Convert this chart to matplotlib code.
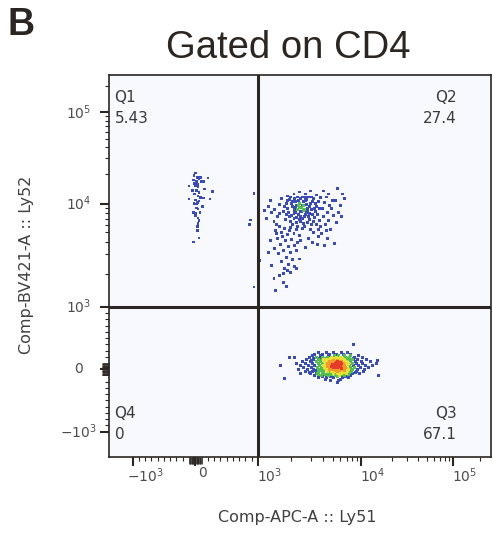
import numpy as np
import matplotlib
matplotlib.use("Agg")
import matplotlib.pyplot as plt
import matplotlib.transforms as mtransforms
from matplotlib.colors import ListedColormap, BoundaryNorm
from matplotlib.ticker import FixedLocator, FixedFormatter, NullFormatter

plt.rcParams["font.family"] = ["DejaVu Sans"]

# ---- events, in compensated fluorescence units (Ly51 = x, Ly52 = y) ----

# Q1: Ly51- Ly52+
q1_x = [5, -22, 32, 85, -32, 21, 58, -11, 32, 96, 138, 5, 42, -102, 149, -48,
        21, 58, 272, -11, 42, 85, 112, 138, -102, 234, 5, 32, 21, 112, 42, -32,
        5, 74, 5, 42, 58, 42, 32, 32, 58, -32, 202, 16, 58, -22,
        938, 885, 869, 938]
q1_y = [20200, 19000, 18200, 18200, 17200, 16700, 17600, 15900, 15700, 16600,
        16600, 15100, 14800, 15100, 14000, 13500, 13500, 13000, 13200, 12500,
        12000, 11550, 11400, 11400, 11100, 11100, 10900, 10300, 9930, 9300, 8800,
        8140, 7940, 8140, 7490, 7090, 6640, 6220, 5750, 5220, 4380, 3950, 18000,
        9010, 10700, 10100,
        12600, 6750, 6030, 1510]

# Q2: Ly51+ Ly52+ (dense cloud, left edge, tail, right edge, bottom)
q2_x = [1810, 1930, 2050, 2180, 2270, 2410, 2510, 2670, 2780, 2960, 3170, 3410,
        1890, 2010, 2140, 2320, 2460, 2620, 2730, 2900, 3100, 3330, 1775, 1970,
        2100, 2230, 2370, 2570, 2780, 3020, 1850, 2230, 2370, 2570, 2840, 3580,
        3250, 1970, 2140, 2270, 2460, 2620, 2320, 2100, 2410, 2730, 3020, 2050,
        2180, 2510, 1930, 1700, 3490, 2670, 2900,
        1850, 2010, 2140, 2320, 2570, 2730, 2900, 3100, 3330, 2230, 2410, 2670,
        2840, 3170, 1810, 2050, 2270, 2620, 2960, 3410, 1740, 3660, 2410, 2510,
        3020, 3250, 2370, 2180, 2570, 2780,
        2100, 2370, 2670, 2960, 3410, 1850,
        1250, 1330, 1410, 1500, 1200, 1390, 1570, 1300, 1630, 1470, 1150, 1570,
        1570, 1740, 1970, 2230, 2510, 1630, 1850, 2100, 2370, 1500, 1775, 2010,
        2270, 1600, 1890, 2140, 1700, 1970, 1540, 2230, 1810, 2050, 1630, 1890,
        1740, 2140, 1470, 2410, 1930, 1670, 1440, 1300, 1410, 1850, 1570,
        3750, 4130, 4550, 5010, 5650, 3940, 4440, 5130, 3660, 4230, 4770, 5510,
        3840, 4440, 3490, 5250, 6070, 4660, 6680, 6220, 3580, 4030, 3170, 2840,
        2670, 4330, 4890, 5380, 5790, 4030, 3750, 4550, 6370, 3580, 4130, 3100,
        4330,
        1390, 1700, 1700, 1250, 1040, 1970, 2230, 1810, 1440, 1330, 2370]
q2_y = [10000, 10960, 9300, 10470, 8660, 11210, 9530, 10710, 8870, 10000, 11210,
        9300, 8050, 7490, 8450, 7670, 8250, 7310, 8050, 6800, 7670, 8250, 6800,
        6480, 6970, 6330, 6800, 6180, 6330, 6030, 8870, 9530, 10000, 10470, 11730,
        10470, 7140, 11730, 11210, 11730, 9080, 8660, 10710, 7860, 7310, 9760,
        8660, 10470, 8050, 6970, 7310, 8250, 7670, 11470, 7860,
        10710, 10000, 9080, 9530, 8450, 10960, 9300, 10470, 10000, 7140, 6480, 7670,
        7310, 6480, 7670, 6030, 5750, 5750, 5350, 6030, 9300, 8870, 8250, 11730,
        11730, 8870, 9080, 8870, 9530, 8250,
        12570, 13150, 12570, 13460, 12280, 12000,
        9300, 8050, 8660, 7310, 6970, 6480, 9760, 10710, 11210, 6030, 8450, 7860,
        5750, 5480, 5610, 5350, 5480, 4980, 4740, 4860, 4630, 4310, 4100, 4200,
        3910, 3730, 3550, 3640, 3230, 3070, 3000, 3230, 2760, 2650, 2550, 2400,
        2210, 2300, 4860, 4100, 5220, 4520, 5220, 4100, 3390, 2120, 1920,
        11470, 10230, 12570, 10710, 14100, 8870, 8050, 7490, 6640, 6030, 5350, 6330,
        4860, 4310, 3730, 3820, 9530, 9530, 11210, 7310, 5350, 13460, 4980, 4310,
        3470, 11730, 8870, 10710, 8050, 7310, 5750, 6640, 12570, 4520, 3640, 3910,
        5220,
        1800, 2000, 1660, 3070, 2600, 2040, 2210, 1530, 1400, 2350, 2700]

# Q3: Ly51+ Ly52-, listed row by row (one Ly52 level per row)
q3_row_y = [395, 267, 240, 220, 188, 172, 156, 140, 124, 108, 92, 76, 60, 45,
            29, 13, -3, -19, -35, -51, -67, -83, -99, -115, -131, -146, -160,
            -178, -210]
q3_row_x = [
    [8300],
    [3580, 4330, 5130, 6220, 7180],
    [3250, 3940, 4660, 5510, 6520, 7720],
    [3100, 3750, 4550, 5250, 5790, 6680, 7720, 9360],
    [1930, 2140, 2900, 3410, 3940, 4440, 4890, 5510, 6070, 6850, 7540, 8500, 10300],
    [3170, 3660, 4230, 4770, 5250, 5790, 6370, 7180, 8300],
    [2730, 3170, 3580, 4030, 4330, 4660, 5010, 5380, 5790, 6220, 6680, 7360, 8100,
     9140, 11290],
    [3020, 3750, 4440, 5130, 5650, 6520, 7720, 14500],
    [2510, 2960, 3410, 3750, 4130, 4440, 4660, 4890, 5130, 5380, 5650, 5930, 6220,
     6520, 7010, 7720, 8710, 10070, 12360],
    [4330, 4770, 5250, 5510, 5790, 6070, 6680],
    [2230, 2670, 3100, 3580, 3940, 4230, 4440, 4660, 4890, 5130, 5380, 5650, 5930,
     6220, 6520, 6850, 7360, 8100, 8920, 10300, 14180],
    [4550, 5010, 5250, 5510, 5790, 6070, 6370],
    [1600, 2410, 2840, 3250, 3660, 4030, 4330, 4550, 4770, 5010, 5250, 5510, 5790,
     6070, 6370, 6680, 7010, 7540, 8300, 9360, 11030, 12940],
    [4440, 4890, 5130, 5380, 5650, 5930, 6520, 7180],
    [2570, 3020, 3490, 3840, 4130, 4440, 4660, 4890, 5130, 5380, 5650, 5930, 6220,
     6520, 6850, 7180, 7720, 8500, 9820, 11800],
    [4230, 4770, 5250, 5510, 5790, 6220, 6850],
    [2320, 2780, 3170, 3580, 3940, 4330, 4660, 5010, 5250, 5510, 5790, 6070, 6370,
     6850, 7360, 8100, 9140, 10780],
    [3330, 3840, 4440, 4890, 5380, 5930, 6680, 7720],
    [2670, 3100, 3580, 4030, 4440, 4890, 5250, 5650, 6070, 6520, 7180, 7910, 8920,
     10540],
    [2900, 3410, 3940, 4550, 5130, 5790, 6520, 7540, 8710],
    [2410, 2960, 3490, 3940, 4550, 5130, 5650, 6220, 7010, 8100, 9590],
    [3580, 4230, 4890, 5510, 6370, 7360],
    [3250, 3840, 4550, 5380, 5930, 6680, 7720, 14850],
    [3940, 4770, 5650, 6850],
    [3580, 4330, 5130, 6370, 7360],
    [1740],
    [4230, 6070],
    [4770, 5790],
    [5650],
]

gate_x = 1000
gate_y = 1000
quad_names = ["Q1", "Q2", "Q3", "Q4"]
quad_freq = ["5.43", "27.4", "67.1", "0"]

# labelled decades, plus the unlabelled +-10..100 ticks that crowd around zero
major_ticks = [-1000, 0, 1000, 10000, 100000]
major_labels = [r"$-10^{3}$", "0", r"$10^{3}$", r"$10^{4}$", r"$10^{5}$"]
zero_ticks = [-k * 10 for k in range(1, 11)] + [k * 10 for k in range(1, 11)]
minor_ticks = ([-k * 100 for k in range(2, 10)] + [k * 100 for k in range(2, 10)]
               + [k * 1000 for k in range(2, 10)] + [k * 10000 for k in range(2, 10)]
               + [200000])

# ---- biexponential-style display scale ----
# linear below 1000, log above; knots give the screen spacing per decade
G_KNOTS = np.array([-10.0, 0.0, 1.0, 1 + np.log10(2), 1 + np.log10(3), 2.0,
                    2 + np.log10(2), 2 + np.log10(3), 3.0, 3 + np.log10(2), 10.0])
P_KNOTS = np.array([-563.8, 62.7, 125.3, 158.7, 178.7, 228.7, 259.0, 274.7,
                    320.3, 347.3, 948.2])


def biex_forward(v):
    v = np.asarray(v, dtype=float)
    g = np.where(v <= 1000, v / 1000, 1 + np.log10(np.maximum(v, 1000) / 1000))
    return np.interp(g, G_KNOTS, P_KNOTS)


def biex_inverse(p):
    g = np.interp(np.asarray(p, dtype=float), P_KNOTS, G_KNOTS)
    return np.where(g <= 1, g * 1000, 1000 * 10 ** (np.maximum(g, 1) - 1))


def expand_rows(row_y, row_x):
    xs, ys = [], []
    for yv, row in zip(row_y, row_x):
        xs += row
        ys += [yv] * len(row)
    return xs, ys


def main():
    q3_x, q3_y = expand_rows(q3_row_y, q3_row_x)
    x = np.array(q1_x + q2_x + q3_x, dtype=float)
    y = np.array(q1_y + q2_y + q3_y, dtype=float)

    fig = plt.figure(figsize=(4.93, 5.40), dpi=100)
    W, H = 493, 540
    ax = fig.add_axes([108.5 / W, 83.3 / H, 382.2 / W, 381.7 / H])
    ax.set_facecolor("#f8f9fe")

    ax.set_xscale("function", functions=(biex_forward, biex_inverse))
    ax.set_yscale("function", functions=(biex_forward, biex_inverse))
    ax.set_xlim(-1384, 262144)
    ax.set_ylim(-1400, 262144)

    # pseudocolour: log of the local event density measured on screen
    pts = ax.transData.transform(np.column_stack([x, y]))
    d2 = ((pts[:, None, :] - pts[None, :, :]) ** 2).sum(-1)
    dens = (d2 < 5.0 ** 2).sum(1).astype(float)
    frac = np.log(dens) / np.log(dens.max())
    order = np.argsort(frac)
    cmap = ListedColormap(["#3a4cbc", "#52c04a", "#e6df36", "#f29a2a", "#e63a2a"])
    norm = BoundaryNorm([0, 0.62, 0.74, 0.85, 0.94, 1.01], cmap.N)
    ax.scatter(x[order], y[order], c=frac[order], cmap=cmap, norm=norm,
               s=3.4, marker="s", linewidths=0, zorder=2)

    line_col = "#2b2622"
    ax.axvline(gate_x, color=line_col, lw=2.2, zorder=3)
    ax.axhline(gate_y, color=line_col, lw=2.2, zorder=3)
    for sp in ax.spines.values():
        sp.set_color(line_col)
        sp.set_linewidth(1.2)

    ticks = sorted(major_ticks + zero_ticks)
    labels = [major_labels[major_ticks.index(t)] if t in major_ticks else ""
              for t in ticks]
    for axis in (ax.xaxis, ax.yaxis):
        axis.set_major_locator(FixedLocator(ticks))
        axis.set_major_formatter(FixedFormatter(labels))
        axis.set_minor_locator(FixedLocator(minor_ticks))
        axis.set_minor_formatter(NullFormatter())
    ax.tick_params(which="major", direction="out", length=6.5, width=1.5,
                   color=line_col, labelsize=10, labelcolor="#4d4d4d")
    ax.tick_params(which="minor", direction="out", length=3.2, width=0.8,
                   color=line_col)
    ax.tick_params(axis="x", which="major", pad=0.5)
    ax.tick_params(axis="y", which="major", pad=15)

    # the crowded ticks near zero are thinner and a little shorter
    for axis in (ax.xaxis, ax.yaxis):
        for tick, lab in zip(axis.get_major_ticks(), labels):
            if not lab:
                tick.tick1line.set_markeredgewidth(0.6)
                tick.tick1line.set_markersize(5.0)

    # Ly51 labels sit a little to the right of their ticks
    x_shift = dict(zip(major_labels, [13, 7, 12, 11, 11]))
    for tick, lab in zip(ax.xaxis.get_major_ticks(), labels):
        if lab:
            off = mtransforms.ScaledTranslation(x_shift[lab] / 100, 0,
                                                fig.dpi_scale_trans)
            tick.label1.set_transform(tick.label1.get_transform() + off)
    for lab in ax.get_yticklabels():
        lab.set_horizontalalignment("center")
        lab.set_verticalalignment("center")

    # quadrant names and frequencies
    qkw = dict(transform=ax.transAxes, fontsize=11, color="#3a3a3a",
               va="baseline", zorder=4)
    ax.text(0.016, 0.928, quad_names[0], ha="left", **qkw)
    ax.text(0.016, 0.8735, quad_freq[0], ha="left", **qkw)
    ax.text(0.912, 0.928, quad_names[1], ha="right", **qkw)
    ax.text(0.912, 0.8735, quad_freq[1], ha="right", **qkw)
    ax.text(0.912, 0.1014, quad_names[2], ha="right", **qkw)
    ax.text(0.912, 0.0456, quad_freq[2], ha="right", **qkw)
    ax.text(0.016, 0.1014, quad_names[3], ha="left", **qkw)
    ax.text(0.016, 0.0456, quad_freq[3], ha="left", **qkw)

    fig.text(297 / W, 1 - 521.7 / H, "Comp-APC-A :: Ly51", ha="center",
             va="baseline", fontsize=11.5, color="#404040")
    fig.text(27 / W, 1 - 265 / H, "Comp-BV421-A :: Ly52", ha="center",
             va="center", rotation=90, fontsize=11.5, color="#404040")

    fig.text(288.5 / W, 1 - 57.5 / H, "Gated on CD4", ha="center",
             va="baseline", fontsize=27.5, color="#2b2622",
             family="Liberation Sans")
    fig.text(7 / W, 1 - 35 / H, "B", ha="left", va="baseline", fontsize=27,
             fontweight="bold", color="#2b2622", family="Liberation Sans")

    fig.savefig("out.png", dpi=100)


if __name__ == "__main__":
    main()
